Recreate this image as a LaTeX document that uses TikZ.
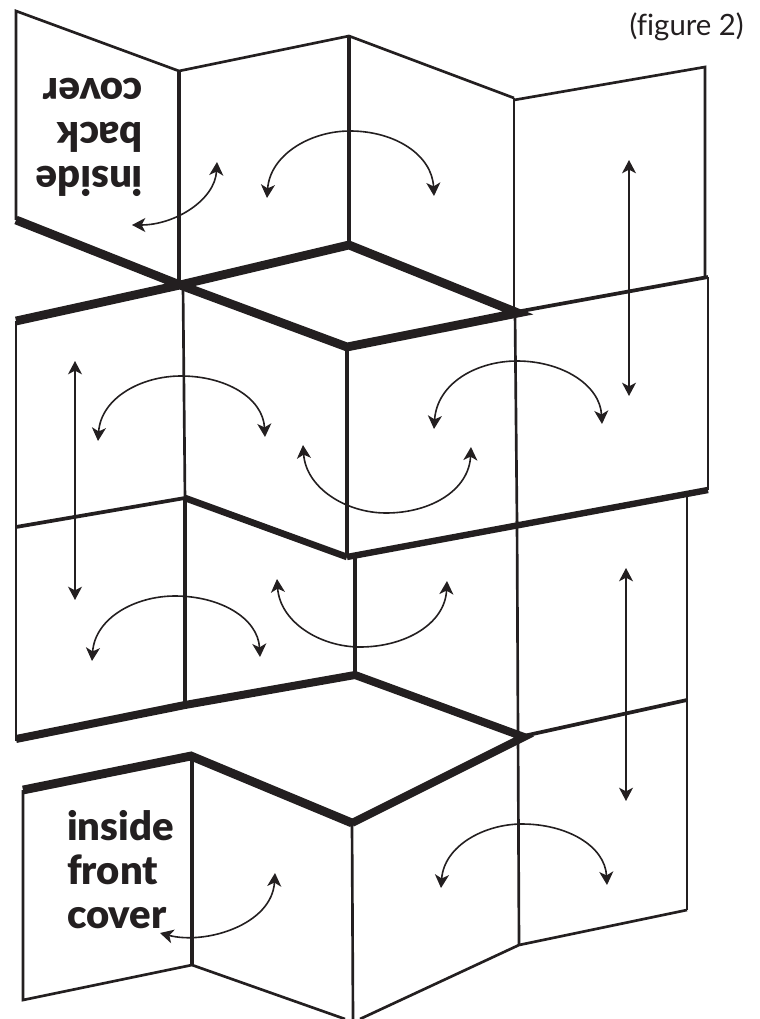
\documentclass[tikz,border=0pt]{standalone}
\usepackage{fontspec}
\setmainfont[Ligatures=NoCommon]{Lato}
\usepackage{xcolor}
\usetikzlibrary{arrows.meta}
\definecolor{inkblack}{RGB}{35, 31, 32}

\begin{document}
\begin{tikzpicture}[
    x=0.75pt, y=-0.75pt,
    edge/.style={draw=inkblack, line width=2pt, line join=miter},
    spine/.style={draw=inkblack, line width=2.8pt},
    rim/.style={draw=inkblack, line width=4.8pt},
    crease/.style={draw=inkblack, line width=6.6pt, miter limit=20},
    swing/.style={draw=inkblack, line width=1.2pt, {Stealth[length=10pt,width=10.5pt,inset=2.8pt]}-{Stealth[length=10pt,width=10.5pt,inset=2.8pt]}},
    covertext/.style={font=\fontsize{30}{33}\selectfont\fontspec{Lato Black}, text=inkblack, align=left, inner sep=0pt},
    figtext/.style={font=\fontsize{22}{26}\selectfont, text=inkblack, inner sep=0pt}
]
    \useasboundingbox (0,0) rectangle (759,1019);

    % Top strip
    \draw[edge] (16,220) -- (16,11) -- (179,71) -- (349,36) -- (514,98);
    \draw[edge] (514,100) -- (705,67) -- (705,277);
    \draw[spine] (179,71) -- (179,284);
    \draw[spine] (349,36) -- (349,245);
    \draw[edge] (514,98) -- (514,312);
    \draw[spine] (516,312) -- (708,277);

    % Second strip
    \draw[edge] (16,321) -- (16,741);
    \draw[edge] (183,286) -- (185,500);
    \draw[spine] (347,347) -- (347,556);
    \draw[edge] (515,313) -- (517,522);
    \draw[edge] (708,277) -- (708,490);
    \draw[spine] (16,527) -- (185,498);

    % Third strip
    \draw[spine] (185,498) -- (185,708);
    \draw[spine] (355,557) -- (355,675);
    \draw[edge] (517,521) -- (519,945);
    \draw[edge] (687,497) -- (687,910);
    \draw[spine] (519,737) -- (687,700);

    % Bottom strip
    \draw[edge] (23,790) -- (23,1000) -- (192,965) -- (345,1019);
    \draw[spine] (192,756) -- (192,965);
    \draw[edge] (352,823) -- (353,1019);
    \draw[edge] (360,1019) -- (519,945) -- (687,910);

    % Heavy folds
    \draw[crease] (16,220) -- (180,285) -- (349,245) -- (518,313) -- (347,347) -- (180,285) -- (16,321);
    \draw[crease, line width=5pt] (185,498) -- (347,557);
    \draw[rim] (347,557) -- (708,490);
    \draw[crease, line width=6pt] (16,739) -- (185,705) -- (355,675);
    \draw[crease, line width=6pt] (355,675) -- (524,737) -- (352,823);
    \draw[crease] (23,790) -- (191,756) -- (352,823);

    % Arrows
    \draw[swing] (132,225) .. controls (175,225) and (215,200) .. (217,162);
    \draw[swing] (267,198) .. controls (270,155) and (310,131) .. (350,131) .. controls (395,131) and (432,155) .. (434,196);
    \draw[swing] (629,160) -- (629,396);
    \draw[swing] (75,361) -- (75,600);
    \draw[swing] (98,441) .. controls (101,398) and (141,376) .. (181,376) .. controls (226,376) and (263,398) .. (265,437);
    \draw[swing] (434,429) .. controls (437,383) and (477,361) .. (517,361) .. controls (562,361) and (600,385) .. (602,424);
    \draw[swing] (303,445) .. controls (306,488) and (346,513) .. (386,513) .. controls (431,513) and (469,490) .. (471,447);
    \draw[swing] (92,661) .. controls (95,618) and (135,596) .. (175,596) .. controls (220,596) and (258,618) .. (260,657);
    \draw[swing] (277,579) .. controls (280,622) and (320,647) .. (360,647) .. controls (405,647) and (445,624) .. (447,581);
    \draw[swing] (626,568) -- (626,801);
    \draw[swing] (441,888) .. controls (444,846) and (484,824) .. (522,824) .. controls (567,824) and (605,846) .. (607,885);
    \draw[swing] (160,933) .. controls (205,945) and (272,925) .. (275,873);

    % Labels
    \node[covertext, rotate=180, anchor=north west] (backlabel) at (143,197) {inside\\back\\cover};
    \node[covertext, anchor=north west] (frontlabel) at (67,810) {inside\\front\\cover};
    \node[figtext, anchor=east] (figlabel) at (744,27) {(figure 2)};
\end{tikzpicture}
\end{document}
